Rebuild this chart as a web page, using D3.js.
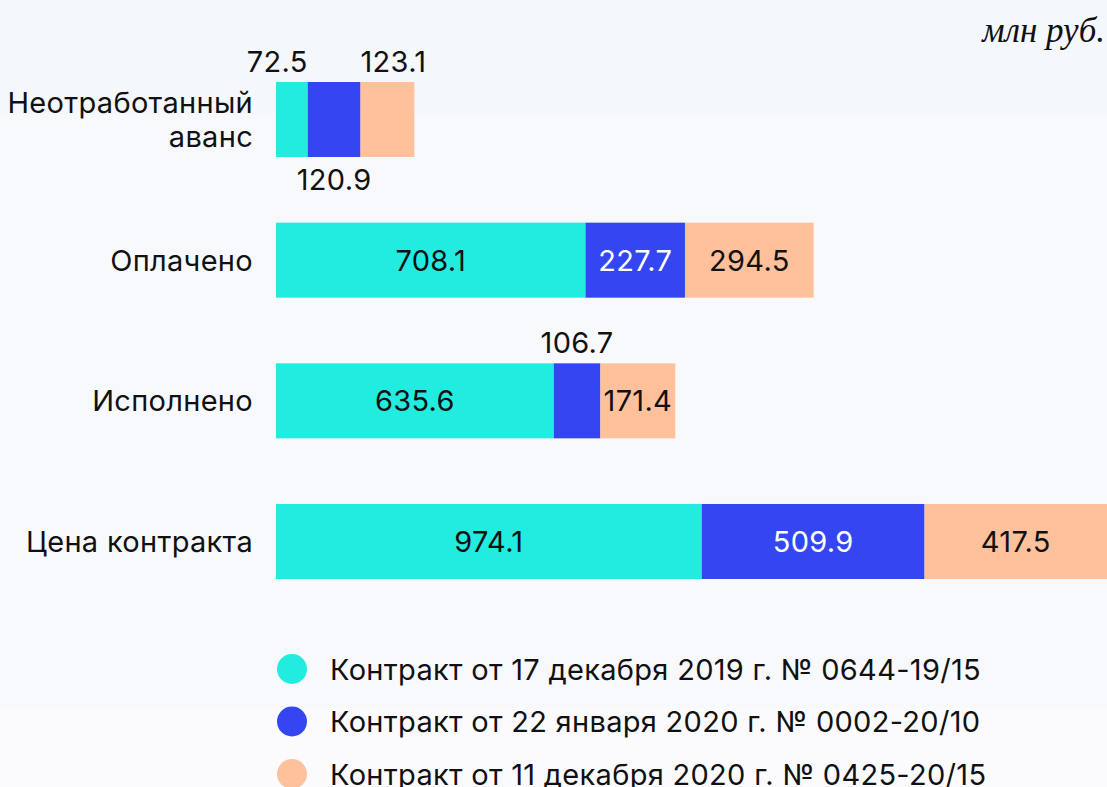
<!DOCTYPE html>
<html>
<head>
<meta charset="utf-8">
<script src="https://cdn.jsdelivr.net/npm/d3@7"></script>
<style>
  body { margin: 0; background: #f8f9fd; }
  svg { display: block; }
</style>
</head>
<body>
<svg id="chart" width="1107" height="787"></svg>
<script>
// categories, top to bottom
const categories = ['Неотработанный аванс', 'Оплачено', 'Исполнено', 'Цена контракта'];
const categoryLines = [['Неотработанный', 'аванс'], ['Оплачено'], ['Исполнено'], ['Цена контракта']];

const seriesNames = [
  'Контракт от 17 декабря 2019 г. № 0644-19/15',
  'Контракт от 22 января 2020 г. № 0002-20/10',
  'Контракт от 11 декабря 2020 г. № 0425-20/15'
];
const colors = ['#22ebdf', '#3446f2', '#ffc19c'];

// values per series, aligned with categories
const contract2019 = [72.5, 708.1, 635.6, 974.1];
const contract2020jan = [120.9, 227.7, 106.7, 509.9];
const contract2020dec = [123.1, 294.5, 171.4, 417.5];

// where each value label sits: in = inside bar, others outside
const labelPos = [
  ['left', 'below', 'right'],
  ['in', 'in', 'in'],
  ['in', 'above', 'in'],
  ['in', 'in', 'in']
];

const unitLabel = 'млн руб.';

const svg = d3.select('#chart');
const W = 1107, H = 787;
const font = 'Inter, "Noto Sans", sans-serif';
const fs = 29;

// background bands
svg.append('rect').attr('width', W).attr('height', 114).attr('fill', '#f4f7fb');
svg.append('rect').attr('y', 114).attr('width', W).attr('height', 594).attr('fill', '#f8f9fd');
svg.append('rect').attr('y', 708).attr('width', W).attr('height', 79).attr('fill', '#fbfbfe');

const table = categories.map((c, i) => ({
  cat: c, vals: [contract2019[i], contract2020jan[i], contract2020dec[i]]
}));
const stacked = d3.stack().keys([0, 1, 2]).value((d, k) => d.vals[k])(table);

const total = d3.max(table, d => d3.sum(d.vals));
const x = d3.scaleLinear().domain([0, total]).range([276, 1107]);
const y = d3.scaleBand().domain(categories).range([82, 579]).paddingInner(0.4668).paddingOuter(0);
const bh = y.bandwidth();

stacked.forEach((layer, k) => {
  svg.append('g').selectAll('rect')
    .data(layer)
    .join('rect')
    .attr('x', d => x(d[0]))
    .attr('y', d => y(d.data.cat))
    .attr('width', d => x(d[1]) - x(d[0]))
    .attr('height', bh)
    .attr('fill', colors[k]);
});

// value labels
stacked.forEach((layer, k) => {
  svg.append('g').selectAll('text')
    .data(layer)
    .join('text')
    .attr('font-family', font)
    .attr('font-size', fs)
    .attr('letter-spacing', 0.3)
    .attr('fill', (d, i) => (labelPos[i][k] === 'in' && k === 1) ? '#ffffff' : '#111111')
    .attr('x', (d, i) => {
      const p = labelPos[i][k];
      if (p === 'left') return x(d[1]);
      if (p === 'right') return x(d[0]);
      return (x(d[0]) + x(d[1])) / 2;
    })
    .attr('y', (d, i) => {
      const p = labelPos[i][k];
      const top = y(d.data.cat);
      if (p === 'left' || p === 'right' || p === 'above') return top - 10;
      if (p === 'below') return top + bh + 33;
      return top + bh / 2 + 10.5;
    })
    .attr('text-anchor', (d, i) => {
      const p = labelPos[i][k];
      if (p === 'left') return 'end';
      if (p === 'right') return 'start';
      return 'middle';
    })
    .text(d => d3.format('.1f')(d[1] - d[0]));
});

// category labels
const catG = svg.append('g');
categories.forEach((c, i) => {
  const lines = categoryLines[i];
  const mid = y(c) + bh / 2;
  const t = catG.append('text')
    .attr('font-family', font)
    .attr('font-size', fs)
    .attr('letter-spacing', 0.3)
    .attr('fill', '#111111')
    .attr('text-anchor', 'end');
  lines.forEach((ln, j) => {
    t.append('tspan')
      .attr('x', 253)
      .attr('y', mid + 10.5 + (j - (lines.length - 1) / 2) * 34)
      .text(ln);
  });
});

// unit label
svg.append('text')
  .attr('x', 1105)
  .attr('y', 42)
  .attr('text-anchor', 'end')
  .attr('font-family', '"Liberation Serif", "DejaVu Serif", serif')
  .attr('font-style', 'italic')
  .attr('font-size', 35)
  .attr('fill', '#111111')
  .text(unitLabel);

// legend
const legend = svg.append('g');
seriesNames.forEach((s, k) => {
  const cy = 669 + k * 52.5;
  legend.append('circle').attr('cx', 292).attr('cy', cy).attr('r', 15).attr('fill', colors[k]);
  legend.append('text')
    .attr('x', 330)
    .attr('y', cy + 10.5)
    .attr('font-family', font)
    .attr('font-size', fs)
    .attr('letter-spacing', 0.3)
    .attr('fill', '#111111')
    .text(s);
});
</script>
</body>
</html>
